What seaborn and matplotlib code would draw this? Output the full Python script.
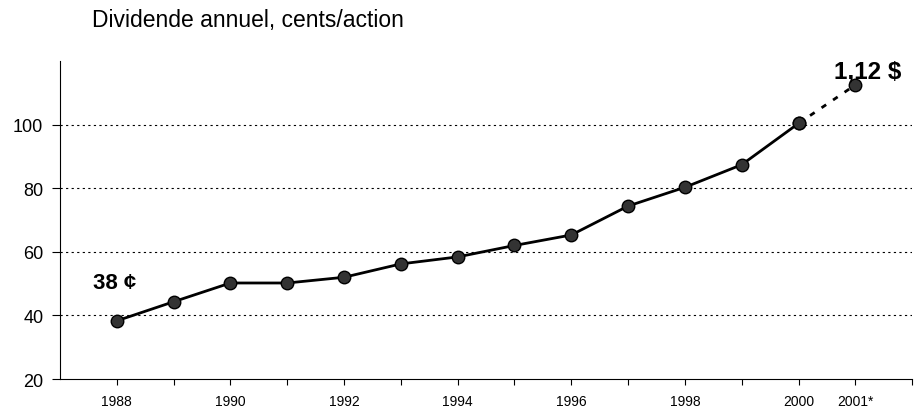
import pandas as pd
import matplotlib.pyplot as plt
import seaborn as sns

# Data
years = [1988, 1989, 1990, 1991, 1992, 1993, 1994, 1995, 1996, 1997, 1998, 1999, 2000, 2001]
dividend = [38.3, 44.3, 50.2, 50.2, 52, 56.2, 58.4, 62, 65.3, 74.4, 80.3, 87.4, 100.4, 112.5]
tick_years = [1988, 1989, 1990, 1991, 1992, 1993, 1994, 1995, 1996, 1997, 1998, 1999, 2000, 2001, 2002]
tick_labels = ["1988", "", "1990", "", "1992", "", "1994", "", "1996", "", "1998", "", "2000", "2001*", ""]

df = pd.DataFrame({"year": years, "dividend": dividend})
actual = df[df["year"] <= 2000]
forecast = df[df["year"] >= 2000]

sns.set_style("white")
plt.rcParams['font.family'] = ['Liberation Sans', 'DejaVu Sans']
plt.rcParams['text.color'] = 'black'
plt.rcParams['xtick.color'] = 'black'
plt.rcParams['ytick.color'] = 'black'

fig = plt.figure(figsize=(9.14, 4.14), dpi=100)
ax = fig.add_axes([0.0656, 0.0821, 0.9324, 0.768])

# Dotted horizontal gridlines
for v in [40, 60, 80, 100]:
    ax.axhline(v, color="black", lw=0.8, ls=(0, (2, 3)), zorder=0)

# Forecast segment (dashed) then actual line with markers
marker_kw = dict(marker="o", markersize=9, markerfacecolor="#333333",
                 markeredgecolor="black", markeredgewidth=1)
sns.lineplot(data=forecast, x="year", y="dividend", ax=ax, color="black",
             lw=2.0, ls=(0, (2, 3)), **marker_kw)
sns.lineplot(data=actual, x="year", y="dividend", ax=ax, color="black",
             lw=2.0, **marker_kw)

ax.set_xlim(1987, 2002)
ax.set_ylim(20, 120)
ax.set_yticks([20, 40, 60, 80, 100])
ax.set_xticks(tick_years)
ax.set_xticklabels(tick_labels, fontsize=10)
ax.tick_params(axis="y", labelsize=13, length=6, width=0.8, direction="out", pad=6, left=True)
ax.tick_params(axis="x", length=4, width=0.8, direction="out", pad=7, bottom=True)
ax.set_xlabel("")
ax.set_ylabel("")

sns.despine(ax=ax)
for s in ["left", "bottom"]:
    ax.spines[s].set_color("black")
    ax.spines[s].set_linewidth(0.8)

# Annotations
ax.text(1987.58, 50.5, "38 ¢", fontsize=16, fontweight="bold", ha="left", va="center")
ax.text(2000.63, 117, "1,12 $", fontsize=17.5, fontweight="bold", ha="left", va="center")

fig.text(92 / 914, 1 - 21 / 414, "Dividende annuel, cents/action", fontsize=16.5, ha="left", va="center")

plt.savefig("out.png", dpi=100)
